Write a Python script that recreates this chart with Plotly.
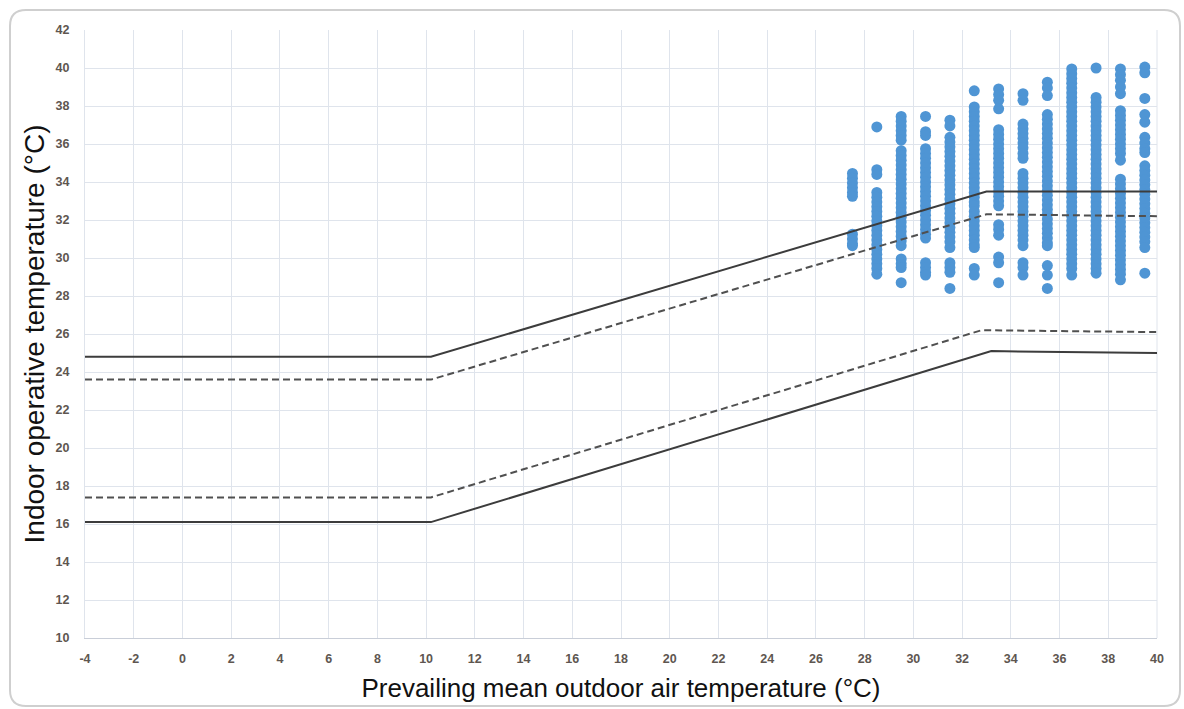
import plotly.graph_objects as go

# ---------------- data ----------------
line_x_upper = [-4, 10.2, 33.0, 40]
upper_solid = [24.8, 24.8, 33.5, 33.5]
upper_dashed = [23.6, 23.6, 32.3, 32.2]
line_x_lower_dashed = [-4, 10.2, 32.8, 40]
lower_dashed = [17.4, 17.4, 26.2, 26.1]
line_x_lower_solid = [-4, 10.2, 33.2, 40]
lower_solid = [16.1, 16.1, 25.1, 25.0]

column_x = [27.5, 28.5, 29.5, 30.5, 31.5, 32.5, 33.5, 34.5, 35.5, 36.5, 37.5, 38.5, 39.5]

c27_5 = [34.45, 34.2, 33.95, 33.7, 33.45, 33.25, 31.25, 31.0, 30.75, 30.65]
c28_5 = [36.9, 34.65, 34.4, 33.45, 33.2, 32.95, 32.7, 32.45, 32.2, 31.95, 31.7, 31.45, 31.2,
         30.95, 30.7, 30.45, 30.2, 29.95, 29.7, 29.45, 29.15]
c29_5 = [37.45, 37.2, 36.95, 36.7, 36.45, 36.2, 35.65, 35.4, 35.15, 34.9, 34.65, 34.4, 34.15,
         33.9, 33.65, 33.4, 33.15, 32.9, 32.65, 32.4, 32.15, 31.9, 31.65, 31.4, 31.15, 30.9,
         30.65, 29.95, 29.7, 29.5, 28.7]
c30_5 = [37.45, 36.65, 36.45, 35.75, 35.5, 35.25, 35.0, 34.75, 34.5, 34.25, 34.0, 33.75, 33.5,
         33.25, 33.0, 32.75, 32.5, 32.25, 32.0, 31.75, 31.5, 31.25, 31.05, 29.75, 29.5, 29.25, 29.1]
c31_5 = [37.25, 36.95, 36.35, 36.1, 35.85, 35.6, 35.35, 35.1, 34.85, 34.6, 34.35, 34.1, 33.85,
         33.6, 33.35, 33.1, 32.85, 32.6, 32.35, 32.1, 31.85, 31.6, 31.35, 31.1, 30.85, 30.55,
         29.75, 29.5, 29.25, 28.4]
c32_5 = [38.8, 37.95, 37.7, 37.45, 37.2, 36.95, 36.7, 36.45, 36.2, 35.95, 35.7, 35.45, 35.2,
         34.95, 34.7, 34.45, 34.2, 33.95, 33.7, 33.45, 33.2, 32.95, 32.75, 32.45, 32.2, 31.95,
         31.7, 31.45, 31.2, 30.95, 30.7, 30.55, 29.45, 29.1]
c33_5 = [38.9, 38.6, 38.3, 37.85, 36.75, 36.5, 36.25, 36.0, 35.75, 35.5, 35.25, 35.0, 34.75,
         34.5, 34.25, 34.0, 33.75, 33.5, 33.25, 33.0, 32.75, 31.75, 31.5, 31.2, 30.05, 29.75, 28.7]
c34_5 = [38.65, 38.3, 37.05, 36.8, 36.55, 36.3, 36.05, 35.8, 35.5, 35.25, 34.45, 34.2, 33.95,
         33.7, 33.45, 33.2, 32.95, 32.7, 32.45, 32.2, 31.95, 31.7, 31.45, 31.2, 30.95, 30.65,
         29.75, 29.5, 29.1]
c35_5 = [39.25, 38.95, 38.55, 37.55, 37.3, 37.05, 36.8, 36.55, 36.3, 36.05, 35.8, 35.55, 35.3,
         35.05, 34.8, 34.55, 34.3, 34.05, 33.8, 33.55, 33.3, 33.05, 32.8, 32.55, 32.3, 32.05,
         31.8, 31.55, 31.3, 31.05, 30.8, 30.65, 29.6, 29.1, 28.4]
c36_5 = [39.95, 39.7, 39.45, 39.2, 38.95, 38.7, 38.45, 38.2, 37.95, 37.7, 37.45, 37.2, 36.95,
         36.7, 36.45, 36.2, 35.95, 35.7, 35.45, 35.2, 34.95, 34.7, 34.45, 34.2, 33.95, 33.7,
         33.45, 33.2, 32.95, 32.7, 32.45, 32.2, 31.95, 31.7, 31.45, 31.2, 30.95, 30.7, 30.45,
         30.2, 29.95, 29.7, 29.45, 29.1]
c37_5 = [40.0, 38.45, 38.2, 37.95, 37.7, 37.45, 37.2, 36.95, 36.7, 36.45, 36.2, 35.95, 35.7,
         35.45, 35.2, 34.95, 34.7, 34.45, 34.2, 33.95, 33.7, 33.45, 33.2, 32.95, 32.7, 32.45,
         32.2, 31.95, 31.7, 31.45, 31.2, 30.95, 30.7, 30.45, 30.2, 29.95, 29.7, 29.45, 29.2]
c38_5 = [39.95, 39.65, 39.35, 39.0, 38.65, 37.75, 37.5, 37.25, 37.0, 36.75, 36.5, 36.25, 36.0,
         35.75, 35.5, 35.15, 34.15, 33.9, 33.65, 33.4, 33.15, 32.9, 32.65, 32.4, 32.15, 31.9,
         31.65, 31.4, 31.15, 30.9, 30.65, 30.4, 30.15, 29.9, 29.65, 29.4, 29.15, 28.85]
c39_5 = [40.05, 39.75, 38.4, 37.55, 37.15, 36.35, 36.05, 35.75, 35.55, 34.85, 34.6, 34.35,
         34.1, 33.85, 33.6, 33.35, 33.1, 32.85, 32.6, 32.35, 32.1, 31.85, 31.6, 31.35, 31.1,
         30.85, 30.55, 29.2]

columns = [c27_5, c28_5, c29_5, c30_5, c31_5, c32_5, c33_5, c34_5, c35_5, c36_5, c37_5, c38_5, c39_5]

x_ticks = list(range(-4, 41, 2))
y_ticks = list(range(10, 43, 2))

# ---------------- figure ----------------
W, H = 1184, 709
L, R, T, B = 85, 27, 30, 71

sx, sy = [], []
for cx, vals in zip(column_x, columns):
    sx.extend([cx] * len(vals))
    sy.extend(vals)

fig = go.Figure()
fig.add_trace(go.Scatter(x=sx, y=sy, mode="markers",
                         marker=dict(size=11, color="#4f95d4", line=dict(width=0)),
                         showlegend=False, hoverinfo="x+y"))

line_color = "#3c3c3c"
dash_color = "#505050"
fig.add_trace(go.Scatter(x=line_x_upper, y=upper_solid, mode="lines",
                         line=dict(color=line_color, width=2), showlegend=False))
fig.add_trace(go.Scatter(x=line_x_upper, y=upper_dashed, mode="lines",
                         line=dict(color=dash_color, width=2, dash="7px,4px"), showlegend=False))
fig.add_trace(go.Scatter(x=line_x_lower_dashed, y=lower_dashed, mode="lines",
                         line=dict(color=dash_color, width=2, dash="7px,4px"), showlegend=False))
fig.add_trace(go.Scatter(x=line_x_lower_solid, y=lower_solid, mode="lines",
                         line=dict(color=line_color, width=2), showlegend=False))

tick_font = dict(family="Liberation Sans, Arial", size=12.5, color="#5e5650", weight="bold")
grid = "#dfe4ec"

fig.update_xaxes(range=[-4, 40], tickvals=x_ticks, ticktext=[str(v) for v in x_ticks],
                 showgrid=True, gridcolor=grid, gridwidth=1, zeroline=False,
                 showline=True, linecolor="#c9ced8", linewidth=1, mirror=False,
                 ticks="", tickfont=tick_font, ticklabelstandoff=9,
                 title=dict(text="Prevailing mean outdoor air temperature (°C)",
                            font=dict(family="Liberation Sans, Arial", size=26, color="#111111"),
                            standoff=13))
fig.update_yaxes(range=[10, 42], tickvals=y_ticks, ticktext=[str(v) for v in y_ticks],
                 showgrid=True, gridcolor=grid, gridwidth=1, zeroline=False,
                 showline=True, linecolor=grid, linewidth=1,
                 ticks="", tickfont=tick_font, ticklabelstandoff=12,
                 title=dict(text="Indoor operative temperature (°C)",
                            font=dict(family="Liberation Sans, Arial", size=28, color="#111111"),
                            standoff=2))

# right border of plot area
fig.add_shape(type="line", xref="paper", yref="paper", x0=1, x1=1, y0=0, y1=1,
              line=dict(color=grid, width=1), layer="below")

# rounded panel border (pixel -> paper conversion)
pw, ph = W - L - R, H - T - B
def px(x):
    return (x - L) / pw
def py(y):
    return (H - B - y) / ph
x0, x1, y0, y1, r = 10, 1180, 10, 706, 16
path = (f"M {px(x0 + r)},{py(y0)} L {px(x1 - r)},{py(y0)} "
        f"Q {px(x1)},{py(y0)} {px(x1)},{py(y0 + r)} "
        f"L {px(x1)},{py(y1 - r)} Q {px(x1)},{py(y1)} {px(x1 - r)},{py(y1)} "
        f"L {px(x0 + r)},{py(y1)} Q {px(x0)},{py(y1)} {px(x0)},{py(y1 - r)} "
        f"L {px(x0)},{py(y0 + r)} Q {px(x0)},{py(y0)} {px(x0 + r)},{py(y0)} Z")
fig.add_shape(type="path", xref="paper", yref="paper", path=path,
              line=dict(color="#cfcfcf", width=2), layer="below")

fig.update_layout(width=W, height=H, margin=dict(l=L, r=R, t=T, b=B, autoexpand=False),
                  paper_bgcolor="white", plot_bgcolor="white",
                  font=dict(family="Liberation Sans, Arial"))

fig.write_html("out.html", config={"displayModeBar": False},
               post_script="document.body.style.margin='0';document.body.style.overflow='hidden';")
